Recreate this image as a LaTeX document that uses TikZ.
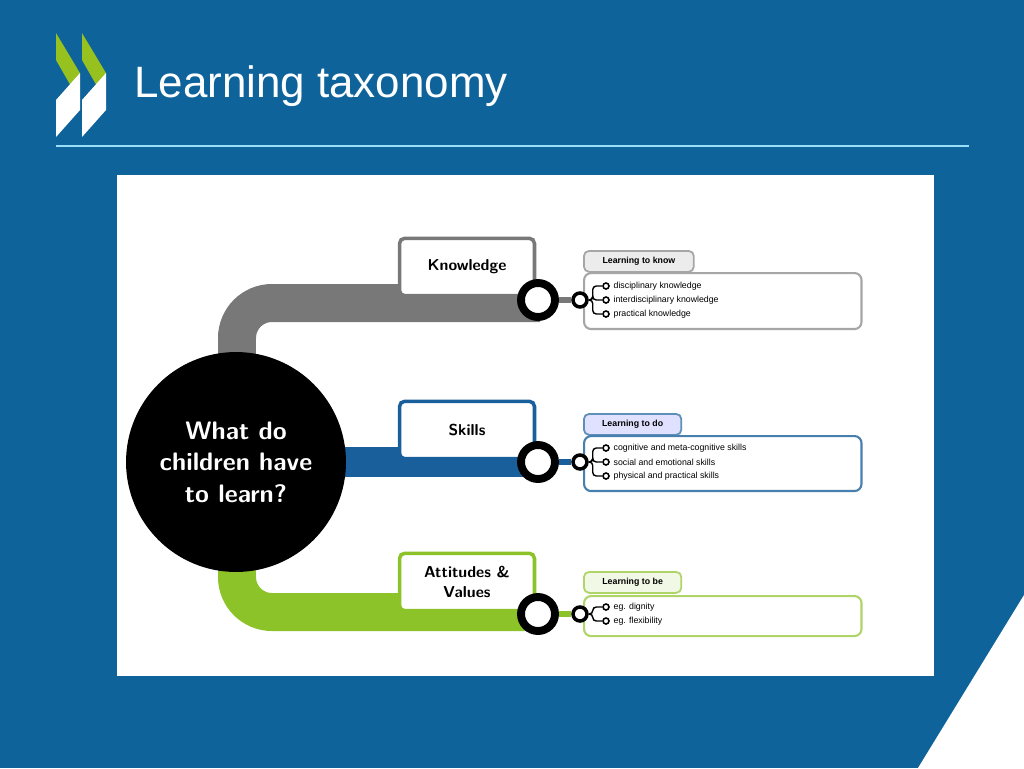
\documentclass[tikz,border=0pt]{standalone}
\usepackage{fontspec}
\setmainfont{Liberation Sans}
\usetikzlibrary{positioning}
\definecolor{oecdblue}{RGB}{14,99,155}
\definecolor{oecdgreen}{RGB}{150,193,31}
\definecolor{bandgray}{RGB}{120,120,120}
\definecolor{bandblue}{RGB}{25,95,155}
\definecolor{bandgreen}{RGB}{140,195,40}
\begin{document}
\begin{tikzpicture}[x=0.02cm,y=-0.02cm]
    \tikzset{
      topic/.style={rectangle, draw=#1, line width=2pt, rounded corners=3pt, fill=white,
        minimum width=2.7cm, minimum height=1.15cm, align=center,
        font=\sffamily\bfseries\small},
      ring/.style={circle, draw=black, line width=4.5pt, fill=white, minimum size=0.68cm, inner sep=0pt},
      dot/.style={circle, draw=black, line width=2pt, fill=white, minimum size=0.28cm, inner sep=0pt},
      tab/.style={rectangle, draw=#1, line width=1pt, rounded corners=3pt, anchor=north west,
        inner sep=2pt, font=\fontsize{5}{6}\selectfont\bfseries, minimum height=0.42cm},
      panel/.style={rectangle, draw=#1, line width=1.2pt, rounded corners=4pt, fill=white, anchor=north west},
      item/.style={font=\fontsize{5}{6}\selectfont, anchor=west, inner sep=1pt}
    }
    % background
    \fill[oecdblue] (0,0) rectangle (1024,768);
    \fill[white] (1024,595) -- (1024,768) -- (918,768) -- cycle;
    \useasboundingbox (0,0) rectangle (1024,768);

    % logo
    \foreach \dx in {0,26} {
      \fill[oecdgreen] (56+\dx,33) -- (80+\dx,73) -- (72+\dx,88) -- (56+\dx,60) -- cycle;
      \fill[white] (80+\dx,73) -- (80+\dx,110) -- (56+\dx,137) -- (56+\dx,100) -- cycle;
    }
    \node[anchor=west, text=white, font=\fontsize{25}{30}\selectfont] (title) at (128,86) {Learning taxonomy};
    \draw[color=cyan!40!white, line width=0.6pt] (56,146) -- (969,146);

    % picture area
    \fill[white] (117,175) rectangle (934,676);

    % bands
    \draw[bandgray, line width=0.76cm, rounded corners=0.7cm] (237,400) -- (237,303) -- (540,303);
    \draw[bandblue, line width=0.6cm] (300,462) -- (540,462);
    \draw[bandgreen, line width=0.76cm, rounded corners=0.7cm] (237,520) -- (237,612) -- (540,612);

    % centre
    \node[circle, fill=black, minimum size=4.4cm, align=center, text=white,
      font=\sffamily\bfseries\Large] (centre) at (236,462) {What do\\children have\\to learn?};

    % topics
    \node[topic=bandgray] (know) at (467,267) {Knowledge};
    \node[topic=bandblue] (skill) at (467,430) {Skills};
    \node[topic=bandgreen] (att) at (467,582) {Attitudes \&\\Values};

    % learning panels
    \node[tab=gray!70, fill=gray!15, minimum width=2.2cm] (tknow) at (583,250) {Learning to know};
    \node[panel=gray!70, minimum width=5.55cm, minimum height=1.12cm] (pknow) at (583,272) {};
    \node[tab=bandblue!70, fill=blue!12, minimum width=1.95cm] (tskill) at (583,413) {Learning to do};
    \node[panel=bandblue!80, minimum width=5.55cm, minimum height=1.1cm] (pskill) at (583,435) {};
    \node[tab=bandgreen!70, fill=bandgreen!12, minimum width=1.95cm] (tatt) at (583,571) {Learning to be};
    \node[panel=bandgreen!70, minimum width=5.55cm, minimum height=0.8cm] (patt) at (583,595) {};

    % connectors
    \foreach \t/\y/\c in {know/300/bandgray, skill/462/bandblue, att/614/bandgreen} {
      \node[ring] (r\t) at (538,\y) {};
      \node[dot] (d\t) at (580,\y) {};
      \draw[\c, line width=3pt] (r\t) -- (d\t);
    }
    \foreach \y/\n/\t/\txt in {286/k1/know/disciplinary knowledge, 300/k2/know/interdisciplinary knowledge, 314/k3/know/practical knowledge,
        448/s1/skill/cognitive and meta-cognitive skills, 462/s2/skill/social and emotional skills, 476/s3/skill/physical and practical skills,
        607/a1/att/eg. dignity, 621/a2/att/eg. flexibility} {
      \node[circle, draw=black, line width=0.9pt, fill=white, inner sep=0pt, minimum size=0.12cm] (o\n) at (606,\y) {};
      \node[item, right=1pt of o\n] (l\n) {\txt};
      \draw[black, line width=0.8pt, rounded corners=2pt] (d\t.east) -- ++(4,0) |- (o\n);
    }
\end{tikzpicture}
\end{document}
